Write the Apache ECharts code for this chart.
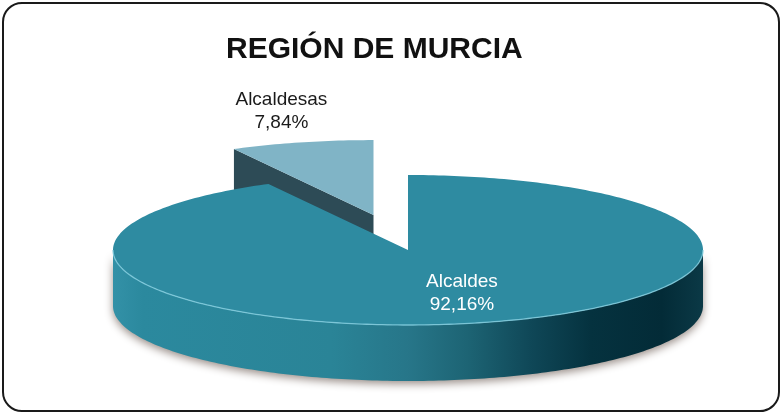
<!DOCTYPE html>
<html>
<head>
<meta charset="utf-8">
<script src="https://cdn.jsdelivr.net/npm/echarts@6/dist/echarts.min.js"></script>
<style>
html, body { margin: 0; padding: 0; background: #fff; }
#main { width: 782px; height: 414px; }
#frame {
  position: absolute; left: 2px; top: 2px; width: 778px; height: 410px;
  box-sizing: border-box; border: 2px solid #1a1a1a; border-radius: 20px;
  pointer-events: none;
}
</style>
</head>
<body>
<div id="main"></div>
<div id="frame"></div>
<script>
const titleText = 'REGIÓN DE MURCIA';
const categories = ['Alcaldes', 'Alcaldesas'];
const values = [92.16, 7.84];
const percentLabels = ['92,16%', '7,84%'];
const exploded = [false, true];

const topColors = ['#2e8ba1', '#80b4c6'];
const cutColors = ['#1f5f70', '#2d4b56'];
const labelColors = ['#ffffff', '#1a1a1a'];

const chart = echarts.init(document.getElementById('main'));
const total = values.reduce((a, b) => a + b, 0);

// fake 3d pie: ellipse centre, radii and thickness (px)
const CX = 408, CY = 250, RX = 295, RY = 75, DEPTH = 56;
const EXPLODE = 0.48;

function pt(ox, oy, a, dy) {
  const r = a * Math.PI / 180;
  return [ox + RX * Math.cos(r), oy - RY * Math.sin(r) + (dy || 0)];
}

function arc(ox, oy, from, to, dy) {
  const pts = [];
  const n = Math.max(2, Math.ceil(Math.abs(to - from)));
  for (let k = 0; k <= n; k++) pts.push(pt(ox, oy, from + (to - from) * k / n, dy));
  return pts;
}

const wallGradient = new echarts.graphic.LinearGradient(0, 0, 1, 0, [
  { offset: 0, color: '#3391a7' },
  { offset: 0.05, color: '#2b899e' },
  { offset: 0.37, color: '#2a8497' },
  { offset: 0.5, color: '#277689' },
  { offset: 0.6, color: '#1d6474' },
  { offset: 0.71, color: '#0f4757' },
  { offset: 0.81, color: '#05323f' },
  { offset: 0.93, color: '#032b37' },
  { offset: 1, color: '#0b3946' }
]);

function renderSlice(params, api) {
  const i = params.dataIndex;
  const v = api.value(0);
  let before = 0;
  for (let k = 0; k < i; k++) before += values[k];
  const a0 = 90 - 360 * before / total;   // clockwise from 12 o'clock
  const a1 = a0 - 360 * v / total;
  const mid = (a0 + a1) / 2;
  const m = mid * Math.PI / 180;

  let ox = CX, oy = CY;
  if (exploded[i]) {
    ox += EXPLODE * RX * Math.cos(m);
    oy -= EXPLODE * RY * Math.sin(m);
  }
  const base = exploded[i] ? 0 : 10;
  const children = [];

  // outer wall, only the front half shows
  for (let n = -2; n <= 1; n++) {
    const lo = Math.max(a1, -180 + 360 * n);
    const hi = Math.min(a0, 360 * n);
    if (hi - lo < 0.01) continue;
    const top = arc(ox, oy, lo, hi, 0);
    const bot = arc(ox, oy, hi, lo, DEPTH);
    children.push({
      type: 'polygon', z2: base + 1,
      shape: { points: top.concat(bot) },
      style: {
        fill: wallGradient,
        shadowBlur: 9, shadowOffsetY: 3, shadowColor: 'rgba(70,50,40,0.55)'
      }
    });
    children.push({
      type: 'polyline', z2: base + 4,
      shape: { points: top },
      style: { fill: null, stroke: 'rgba(130,205,222,0.85)', lineWidth: 1.3 }
    });
  }

  // cut faces that look towards the viewer
  [[a0, Math.cos(a0 * Math.PI / 180) < -0.01], [a1, Math.cos(a1 * Math.PI / 180) > 0.01]]
    .forEach(([a, show]) => {
      if (!show) return;
      children.push({
        type: 'polygon', z2: base + 2,
        shape: { points: [[ox, oy], pt(ox, oy, a, 0), pt(ox, oy, a, DEPTH), [ox, oy + DEPTH]] },
        style: { fill: cutColors[i] }
      });
    });

  // top face
  children.push({
    type: 'polygon', z2: base + 3,
    shape: { points: [[ox, oy]].concat(arc(ox, oy, a0, a1, 0)) },
    style: { fill: topColors[i] }
  });

  // label
  const inside = v / total >= 0.5;
  const kx = inside ? 0.75 : 1.28;
  const ky = inside ? 0.59 : 1.43;
  children.push({
    type: 'text', z2: 30,
    style: {
      text: categories[i] + '\n' + percentLabels[i],
      x: ox + kx * RX * Math.cos(m),
      y: oy - ky * RY * Math.sin(m),
      align: 'center', verticalAlign: 'middle',
      fill: labelColors[i],
      fontSize: 19, lineHeight: 23,
      fontFamily: 'Liberation Sans'
    }
  });

  return { type: 'group', children: children };
}

chart.setOption({
  animation: false,
  backgroundColor: '#fff',
  title: {
    text: titleText,
    left: 226, top: 35, padding: 0,
    textStyle: { fontSize: 30, fontWeight: 'bold', color: '#111', fontFamily: 'Liberation Sans' }
  },
  series: [{
    type: 'custom',
    coordinateSystem: 'none',
    renderItem: renderSlice,
    data: values.map((v, i) => ({ name: categories[i], value: [v] }))
  }]
});
</script>
</body>
</html>
